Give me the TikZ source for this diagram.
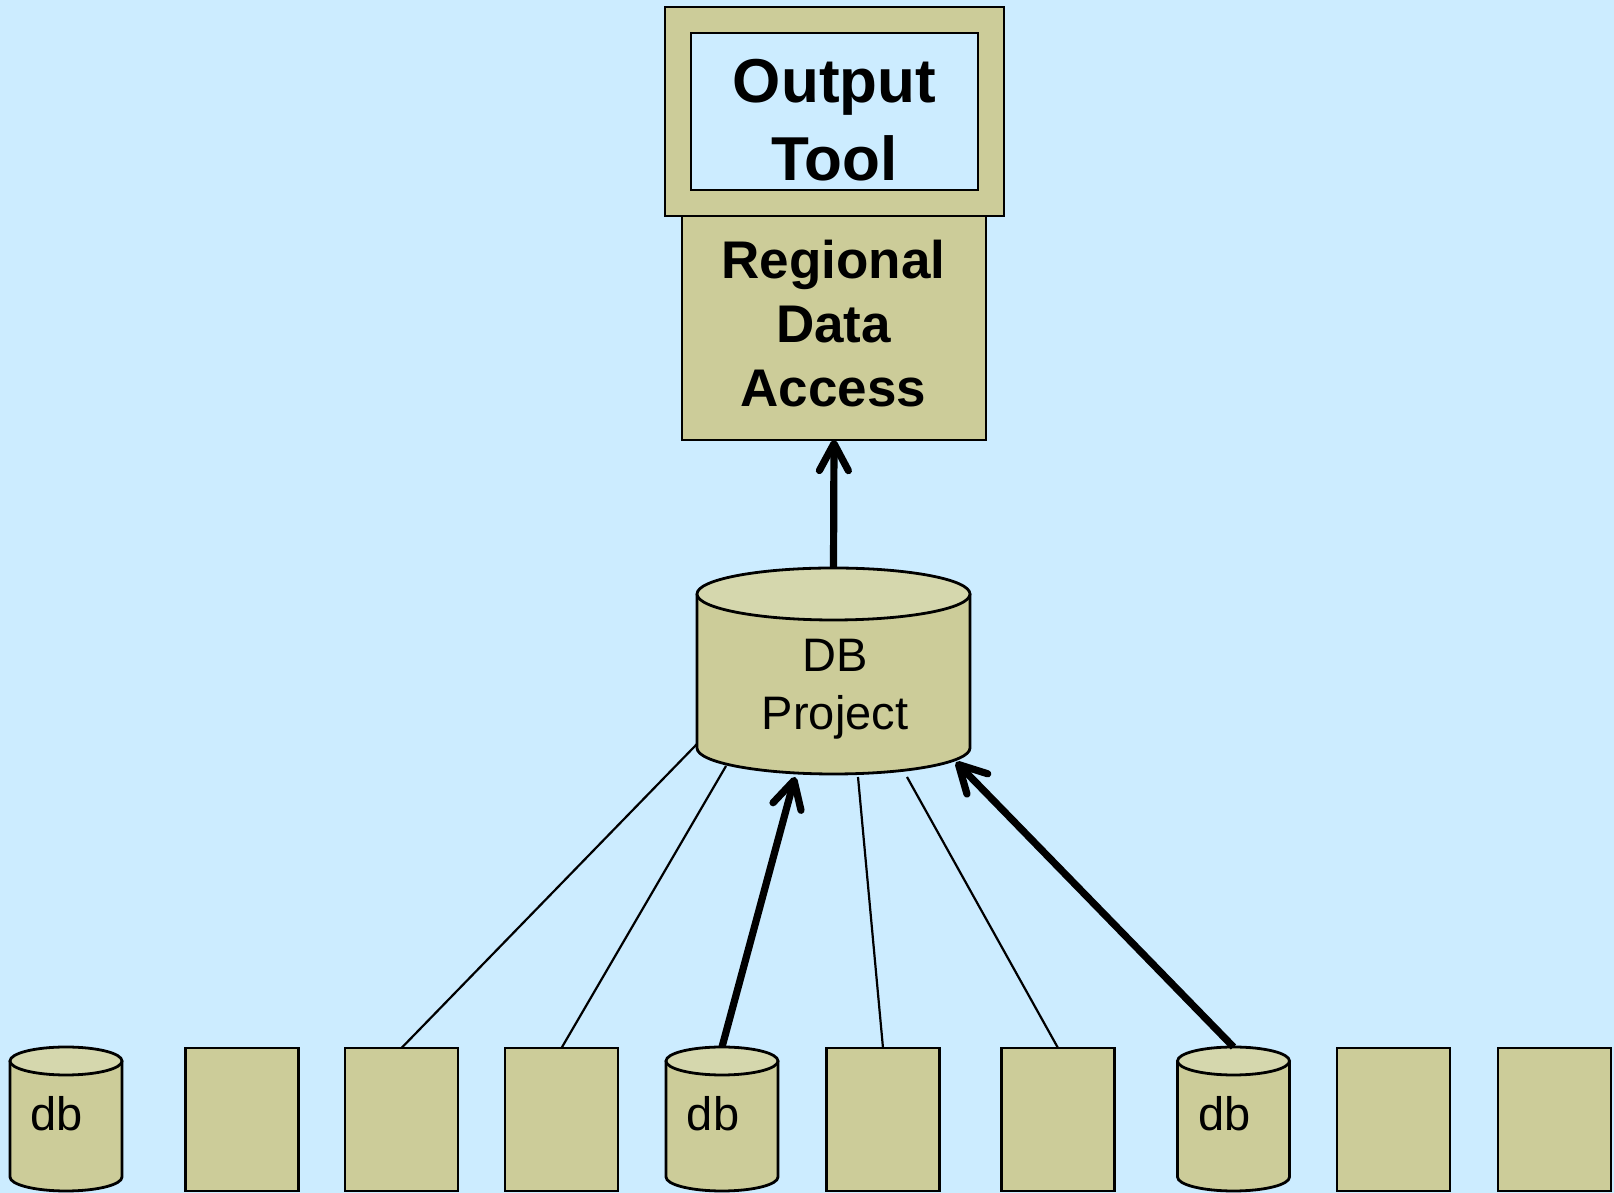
\documentclass[tikz,border=0pt]{standalone}
\usepackage{fontspec}
\setmainfont{Liberation Sans}
\usetikzlibrary{arrows.meta}

\definecolor{sky}{RGB}{204,236,255}
\definecolor{khaki}{RGB}{204,204,153}
\definecolor{khakilight}{RGB}{213,215,173}

\tikzset{
  boxframe/.style={draw=black, line width=2.8pt, fill=khaki, inner sep=0pt, outer sep=0pt},
  slab/.style={boxframe, minimum width=113pt, minimum height=143pt},
  screen/.style={draw=black, line width=2.8pt, fill=sky, inner sep=0pt, outer sep=0pt},
  drumside/.style={draw=black, line width=2.8pt, fill=khaki, line join=round},
  drumtop/.style={draw=black, line width=2.8pt, fill=khakilight},
  hull/.style={inner sep=0pt, outer sep=0pt},
  wire/.style={line width=2.2pt},
  feed/.style={line width=7.2pt, -{Straight Barb[length=27pt,width=29pt,round]}},
  headtxt/.style={font=\bfseries\fontsize{62pt}{78pt}\selectfont, align=center, inner sep=0pt},
  regtxt/.style={font=\bfseries\fontsize{53pt}{64pt}\selectfont, align=center, inner sep=0pt},
  dbtxt/.style={font=\fontsize{47pt}{58pt}\selectfont, align=center, inner sep=0pt}
}

% cylinder: centre x, top rim y, bottom rim y, x radius, y radius
\newcommand\drum[5]{%
  \path[drumside] ({#1-#4},#2) -- ({#1-#4},#3)
    arc[start angle=180, end angle=360, x radius=#4, y radius=#5]
    -- ({#1+#4},#2) -- cycle;
  \path[drumtop] (#1,#2) ellipse[x radius=#4, y radius=#5];
}

\begin{document}
\begin{tikzpicture}[x=1pt, y=1pt]
  \useasboundingbox (0,0) rectangle (1614,1193);
  \fill[sky] (0,0) rectangle (1614,1193);

  % regional access block and output tool on top of it
  \node[boxframe, minimum width=304pt, minimum height=224pt] (rda) at (834,865) {};
  \node[regtxt] (rdat) at (833.5,869) {Regional\\Data\\Access};
  \node[boxframe, minimum width=339pt, minimum height=209pt] (out) at (834.5,1081.5) {};
  \node[screen, minimum width=287pt, minimum height=157pt] (outscr) at (834.5,1081.5) {};
  \node[headtxt] (outt) at (834.5,1072.5) {Output\\Tool};

  % project database
  \drum{833.5}{599}{445}{136.5}{26}
  \node[hull, minimum width=273pt, minimum height=206pt] (dbp) at (833.5,522) {};
  \node[dbtxt] (dbpt) at (835,503.5) {DB\\Project};

  % bottom row: local databases
  \drum{66}{132}{16}{56}{14}
  \drum{722}{132}{16}{56}{14}
  \drum{1233.5}{132}{16}{56}{14}
  \node[hull, minimum width=112pt, minimum height=144pt] (d1) at (66,74) {};
  \node[hull, minimum width=112pt, minimum height=144pt] (d2) at (722,74) {};
  \node[hull, minimum width=112pt, minimum height=144pt] (d3) at (1233.5,74) {};
  \node[dbtxt] (d1t) at (57,79.5) {db};
  \node[dbtxt] (d2t) at (713,79.5) {db};
  \node[dbtxt] (d3t) at (1224.5,79.5) {db};

  % bottom row: other sources
  \node[slab] (r1) at (242,73.5) {};
  \node[slab] (r2) at (401.5,73.5) {};
  \node[slab] (r3) at (561.5,73.5) {};
  \node[slab] (r4) at (883,73.5) {};
  \node[slab] (r5) at (1058,73.5) {};
  \node[slab] (r6) at (1393.5,73.5) {};
  \node[slab] (r7) at (1554.5,73.5) {};

  % attachment points on the project cylinder
  \coordinate (c1) at (697,449);
  \coordinate (c2) at (726,427);
  \coordinate (c3) at (795,416);
  \coordinate (c4) at (858,416);
  \coordinate (c5) at (907,416);
  \coordinate (c6) at (956,431);

  % connectors
  \draw[wire] (c1) -- (r2.north);
  \draw[wire] (c2) -- (r3.north);
  \draw[wire] (c4) -- (r4.north);
  \draw[wire] (c5) -- (r5.north);
  \draw[feed] (d2.north) -- (c3);
  \draw[feed] (d3.north) -- (c6);
  \draw[feed] (dbp.north) -- (rda.south);
\end{tikzpicture}
\end{document}
